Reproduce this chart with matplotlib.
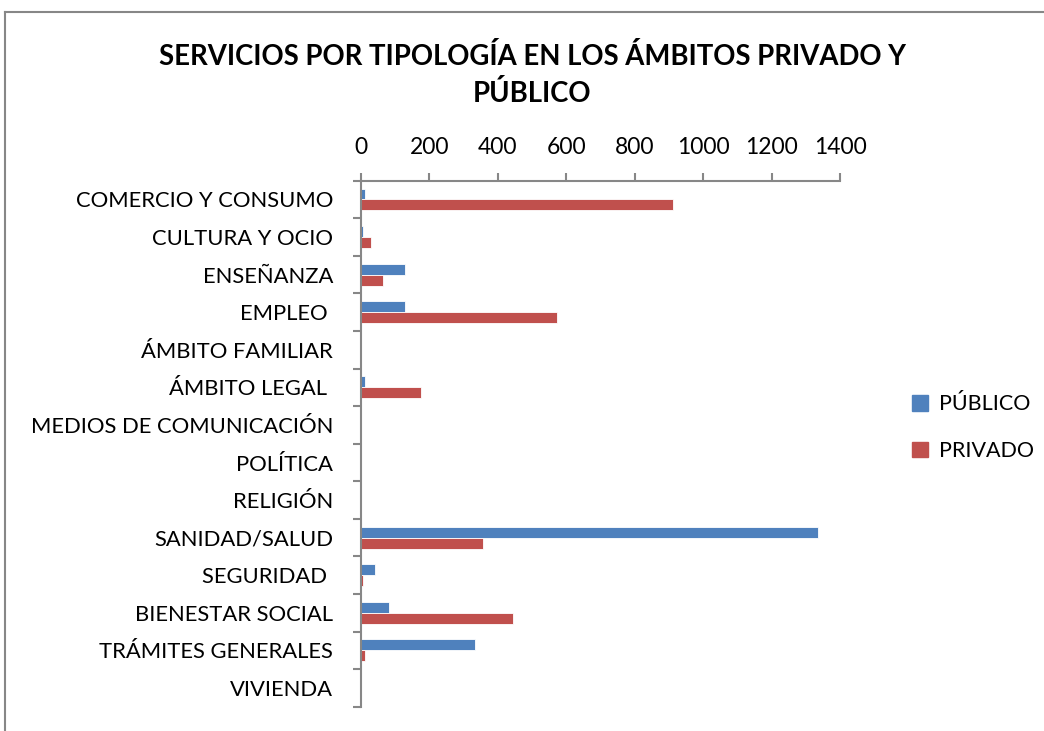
import matplotlib.pyplot as plt
import numpy as np
from matplotlib.patches import Patch

# categories, top to bottom as in the chart
categorias = ['COMERCIO Y CONSUMO', 'CULTURA Y OCIO', 'ENSEÑANZA', 'EMPLEO ',
              'ÁMBITO FAMILIAR', 'ÁMBITO LEGAL ', 'MEDIOS DE COMUNICACIÓN',
              'POLÍTICA', 'RELIGIÓN', 'SANIDAD/SALUD', 'SEGURIDAD ',
              'BIENESTAR SOCIAL', 'TRÁMITES GENERALES', 'VIVIENDA']
publico = [12, 7, 130, 130, 0, 12, 0, 0, 0, 1335, 43, 84, 335, 0]
privado = [913, 30, 66, 574, 0, 176, 0, 0, 0, 358, 7, 446, 12, 0]
xticks = [0, 200, 400, 600, 800, 1000, 1200, 1400]

azul = '#4F81BD'
rojo = '#C0504D'
gris = '#878787'

plt.rcParams['font.family'] = ['Lato', 'DejaVu Sans']

fig = plt.figure(figsize=(10.44, 7.31), dpi=100)
ax = fig.add_axes([0.3455, 0.0332, 0.4591, 0.7196])

y = np.arange(len(categorias))
h = 0.29
ax.barh(y - h / 2, publico, height=h, color=azul, edgecolor='white', linewidth=0.6, label='PÚBLICO')
ax.barh(y + h / 2, privado, height=h, color=rojo, edgecolor='white', linewidth=0.6, label='PRIVADO')

ax.set_xlim(0, 1400)
ax.set_ylim(len(categorias) - 0.5, -0.5)
ax.set_xticks(xticks)
ax.set_xticklabels([str(v) for v in xticks])
ax.xaxis.tick_top()
ax.set_yticks(np.arange(len(categorias) + 1) - 0.5, minor=False)
ax.set_yticklabels([])
ax.set_yticks(y, minor=True)
ax.set_yticklabels(categorias, minor=True)
ax.tick_params(axis='y', which='minor', length=0, pad=20, labelsize=15.8)
ax.tick_params(axis='y', which='major', length=6, width=1.5, color=gris)
ax.tick_params(axis='x', length=6, width=1.5, color=gris, pad=10, labelsize=16.5)

for s in ['right', 'bottom']:
    ax.spines[s].set_visible(False)
for s in ['left', 'top']:
    ax.spines[s].set_color(gris)
    ax.spines[s].set_linewidth(1.5)

fig.text(0.51, 0.897, 'SERVICIOS POR TIPOLOGÍA EN LOS ÁMBITOS PRIVADO Y\nPÚBLICO',
         ha='center', va='center', fontsize=19.8, fontweight='bold', linespacing=1.45)

handles = [Patch(color=azul, label='PÚBLICO'), Patch(color=rojo, label='PRIVADO')]
fig.legend(handles=handles, loc='center left', bbox_to_anchor=(0.8634, 0.415),
           frameon=False, fontsize=15.5, handlelength=0.75, handleheight=0.75,
           handletextpad=0.5, labelspacing=1.25, borderpad=0)

# chart border (left and top edges visible)
fig.add_artist(plt.Line2D([0.005, 0.005], [0, 0.984], color=gris, lw=1.5))
fig.add_artist(plt.Line2D([0.005, 1], [0.984, 0.984], color=gris, lw=1.5))

fig.savefig('out.png', dpi=100, facecolor='white')
